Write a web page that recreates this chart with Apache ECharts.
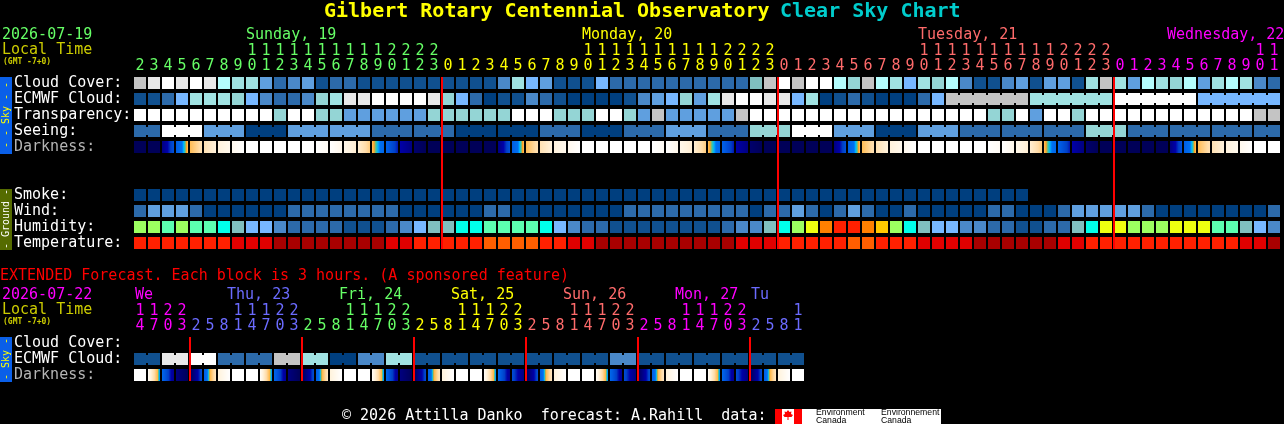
<!DOCTYPE html>
<html><head><meta charset="utf-8">
<style>html,body{margin:0;padding:0;background:#000;overflow:hidden}#c{width:1284px;height:424px}</style>
<script src="https://cdn.jsdelivr.net/npm/echarts@6/dist/echarts.min.js"></script>
</head><body><div id="c"></div>
<script>
// ---------- Data ----------
const hoursMain = [2,3,4,5,6,7,8,9,10,11,12,13,14,15,16,17,18,19,20,21,22,23,
 0,1,2,3,4,5,6,7,8,9,10,11,12,13,14,15,16,17,18,19,20,21,22,23,
 0,1,2,3,4,5,6,7,8,9,10,11,12,13,14,15,16,17,18,19,20,21,22,23,
 0,1,2,3,4,5,6,7,8,9,10,11];
const hoursExt = [14,17,20,23, 2,5,8,11,14,17,20,23, 2,5,8,11,14,17,20,23, 2,5,8,11,14,17,20,23,
 2,5,8,11,14,17,20,23, 2,5,8,11,14,17,20,23, 2,5,8,11];
const rowsMain = ['Cloud Cover:','ECMWF Cloud:','Transparency:','Seeing:','Darkness:','','','Smoke:','Wind:','Humidity:','Temperature:'];
const rowsExt = ['Cloud Cover:','ECMWF Cloud:','Darkness:'];
// level -> colour
const palette = ['#003f7f','#10508f','#2c6aaa','#4a88c8','#5f9fdf','#77b7ff','#b4fdfd','#a0e2e2','#94d5d5','#80bfbf','#c4c4c4','#e8e8e8','#ffffff',
 '#00ffea','#5cffb0','#9cff60','#eeff10','#ffc800','#ff8000','#ff5e00','#ff2000','#e00000','#a80000'];
const cloudCover = [10,11,12,11,12,11,6,7,7,4,2,3,4,1,2,2,1,1,1,1,1,1,1,1,1,1,3,7,5,4,1,1,1,5,2,2,2,2,2,2,2,2,2,2,9,10,12,10,12,12,6,8,10,6,7,5,7,8,6,3,1,1,3,4,1,4,4,1,7,10,7,4,6,7,8,6,4,7,6,7,3,2];
const ecmwfCloud = [1,1,2,5,7,7,7,8,5,3,2,2,3,8,7,11,11,12,12,12,12,11,8,5,2,0,1,1,3,2,1,0,0,0,0,1,3,4,5,8,4,7,11,12,12,11,11,5,7,0,1,2,1,0,0,0,2,5,10,10,10,10,10,10,7,7,7,7,7,7,12,12,12,12,12,12,5,5,5,5,5,5];
const ecmwfLinked = [[58,63],[64,69],[70,75],[76,81]];
const transparency = [12,12,12,12,12,12,12,12,12,12,8,12,12,8,8,4,4,4,4,4,4,8,8,8,8,8,8,12,12,12,8,8,8,12,12,8,4,10,4,4,4,4,4,10,12,12,12,12,12,12,12,12,12,12,12,12,12,12,12,12,12,8,8,12,4,12,12,8,12,12,12,12,12,12,12,12,12,12,12,12,10,10];
const seeingBlockValues = [2,12,4,0,4,4,2,2,0,0,2,0,2,4,2,8,12,4,0,4,2,2,2,8,2,2,2,2];
const seeingBlockSizes  = [2,3,3,3,3,3,3,3,3,3,3,3,3,3,3,3,3,3,3,3,3,3,3,3,3,3,3,2];
const darkFrom = [8,8,7,4.4,2.8,1.8,1,.5,0,0,0,0,0,0,0,.6,1.2,2.8,4.2,6,7.5,8,
 8,8,8,8,7,4.4,2.8,1.8,1,.5,0,0,0,0,0,0,0,.6,1.2,2.8,4.2,6,7.5,8,
 8,8,8,8,7,4.4,2.8,1.8,1,.5,0,0,0,0,0,0,0,.6,1.2,2.8,4.2,6,7.5,8,
 8,8,8,8,7,4.4,2.8,1.8,1,.5,0,0];
const darkTo = [8,8,4.8,2.8,1.8,1,.5,0,0,0,0,0,0,.3,.6,1.2,2.4,4,5.8,7,8,8,
 8,8,8,8,4.8,2.8,1.8,1,.5,0,0,0,0,0,0,.3,.6,1.2,2.4,4,5.8,7,8,8,
 8,8,8,8,4.8,2.8,1.8,1,.5,0,0,0,0,0,0,.3,.6,1.2,2.4,4,5.8,7,8,8,
 8,8,8,8,4.8,2.8,1.8,1,.5,0,0,0];
const smoke = [0,0,0,0,0,0,0,0,0,0,0,0,0,0,0,0,0,0,0,0,0,0,0,0,0,0,0,0,0,0,0,0,0,0,0,0,0,0,0,0,0,0,0,0,0,0,0,0,0,0,0,0,0,0,0,0,0,0,0,0,0,0,0,0];
const wind = [2,4,4,4,2,0,0,0,0,0,0,2,2,2,2,2,2,2,2,0,0,0,0,0,0,2,2,0,0,0,0,0,0,0,0,2,2,2,2,2,2,2,2,2,0,2,2,4,2,0,2,4,2,0,0,2,0,0,0,0,0,2,2,0,0,0,2,4,4,4,4,4,2,0,0,0,0,0,0,0,0,2];
const humidity = [15,15,14,15,14,14,13,9,5,5,3,2,2,2,2,1,1,1,2,3,5,9,9,13,13,14,14,14,14,13,5,3,2,2,1,1,1,1,1,1,1,1,2,3,3,9,13,15,16,18,20,20,18,17,15,13,9,5,5,3,3,2,2,1,1,2,2,9,13,16,16,15,15,15,16,16,16,14,14,9,5,3];
const temperature = [20,20,20,20,20,20,20,21,21,21,22,22,22,22,22,22,22,22,21,21,20,20,20,20,20,19,19,19,19,20,20,21,21,22,22,22,22,22,22,22,22,22,22,21,21,21,20,20,20,20,20,19,19,20,20,20,21,21,21,21,22,22,22,22,22,22,21,21,20,20,20,20,20,20,20,20,20,20,20,21,21,22];
const extEcmwfBlocks = [1,11,12,2,2,10,7,0,3,7,1,1,1,1,1,1,1,3,1,1,1,1,1,1];
const extDarkFrom = [0,.2,4,7,8,4.4,1,0, 0,.2,4,7,8,4.4,1,0, 0,.2,4,7,8,4.4,1,0, 0,.2,4,5,8,4.4,1,0, 0,.2,4,5,8,4.4,1,0, 0,.2,4,5,8,4.4,1,0];
const extDarkTo   = [0,3.6,6.6,8,5,1.5,0,0, 0,3.6,6.6,8,5,1.5,0,0, 0,3.6,6.6,8,5,1.5,0,0, 0,3.6,6.6,7,5,1.5,0,0, 0,3.6,6.6,7,5,1.5,0,0, 0,3.6,6.6,7,5,1.5,0,0];
const midnightColsMain = [22,46,70];
const midnightColsExt = [4,12,20,28,36,44];
// day colours along the hour axes
const dayColMain = ['#66ff66','#ffff00','#ff6b6b','#ff00ff'];
const dayColExt = ['#ff00ff','#6b6bff','#66ff66','#ffff00','#ff6b6b','#ff00ff','#6b6bff'];
const darkScale = [[0,'#ffffff'],[1,'#fff2dc'],[2,'#ffdca8'],[2.9,'#ffb84a'],[3,'#ffa020'],[3.2,'#40c8a0'],[3.4,'#00b0ff'],[3.6,'#0070f0'],[4.6,'#0058e0'],[5.4,'#0040c8'],[6,'#0000a8'],[7,'#000080'],[8,'#000058']];

const FONT = '"DejaVu Sans Mono",monospace';

// ---------- helpers ----------
function hex(c){return [parseInt(c.slice(1,3),16),parseInt(c.slice(3,5),16),parseInt(c.slice(5,7),16)];}
function darkColor(v){
  for(let i=1;i<darkScale.length;i++){
    if(v<=darkScale[i][0]){
      const a=darkScale[i-1],b=darkScale[i],t=(v-a[0])/(b[0]-a[0]||1),A=hex(a[1]),B=hex(b[1]);
      return 'rgb('+A.map((x,k)=>Math.round(x+(B[k]-x)*t)).join(',')+')';
    }
  }
  return darkScale[darkScale.length-1][1];
}
function cellSeries(gi,row,vals,links){
  return {type:'custom',xAxisIndex:gi,yAxisIndex:gi,clip:false,silent:true,animation:false,
    data:vals.map((v,i)=>[i,row,v,links&&links[i]?1:0]),
    renderItem(p,api){
      const c=api.coord([api.value(0),api.value(1)]),x=c[0]-6,y=c[1]-6,f=palette[api.value(2)];
      const ch=[{type:'rect',shape:{x,y,width:12,height:12},style:{fill:f}}];
      if(api.value(3)) ch.push({type:'rect',shape:{x:x+12,y:y+2,width:2,height:8},style:{fill:f}});
      return {type:'group',children:ch};
    }};
}
function darkSeries(gi,row,from,to){
  return {type:'custom',xAxisIndex:gi,yAxisIndex:gi,clip:false,silent:true,animation:false,
    data:from.map((v,i)=>[i,row,v,to[i]]),
    renderItem(p,api){
      const c=api.coord([api.value(0),api.value(1)]),a=api.value(2),b=api.value(3),st=[];
      for(let k=0;k<12;k++){const col=darkColor(a+(b-a)*(k+.5)/12);st.push({offset:k/12,color:col},{offset:(k+1)/12,color:col});}
      return {type:'rect',shape:{x:c[0]-6,y:c[1]-6,width:12,height:12},
        style:{fill:new echarts.graphic.LinearGradient(0,0,1,0,st)}};
    }};
}
function midnightSeries(gi,cols,rowTop,rowBottom){
  return {type:'custom',xAxisIndex:gi,yAxisIndex:gi,clip:false,silent:true,animation:false,z:5,
    data:cols.map(c=>[c,rowTop,rowBottom]),
    renderItem(p,api){
      const t=api.coord([api.value(0),api.value(1)]),b=api.coord([api.value(0),api.value(2)]);
      return {type:'rect',shape:{x:t[0]-7,y:t[1]-6,width:2,height:b[1]-t[1]+12},style:{fill:'#ff0000'}};
    }};
}
function dayColors(hours,cols){let d=0;return hours.map((h,i)=>{if(i&&h<hours[i-1])d++;return cols[d];});}
function linksFromRanges(n,ranges){const l=new Array(n).fill(0);ranges.forEach(r=>{for(let i=r[0];i<r[1];i++)l[i]=1;});return l;}
function expand(vals,sizes){const o=[];vals.forEach((v,i)=>{for(let k=0;k<sizes[i];k++)o.push(v);});return o;}
function blockLinks(sizes){const o=[];sizes.forEach(s=>{for(let k=0;k<s;k++)o.push(k<s-1?1:0);});return o;}
function hourAxis(gi,hours,cols){
  const colors=dayColors(hours,cols);
  return {type:'category',gridIndex:gi,position:'top',data:hours.map(h=>(h>=10?Math.floor(h/10):' ')+'\n'+h%10),
    axisLine:{show:false},axisTick:{show:false},splitLine:{show:false},
    axisLabel:{interval:0,margin:1,hideOverlap:false,fontFamily:FONT,fontSize:15,lineHeight:15,color:(v,i)=>colors[i]}};
}
function rowAxis(gi,rows){
  return {type:'category',gridIndex:gi,inverse:true,data:rows,
    axisLine:{show:false},axisTick:{show:false},splitLine:{show:false},
    axisLabel:{interval:0,margin:119,align:'left',fontFamily:FONT,fontSize:15,padding:[0,0,3,0],
      color:v=>v==='Darkness:'?'#b4b4b4':'#ffffff'}};
}
function txt(s,x,y,fill,size,weight){
  return {type:'text',x,y,silent:true,style:{text:s,fill,font:(weight||'normal')+' '+size+'px '+FONT,textAlign:'left',textVerticalAlign:'middle'}};
}
function rot(s,cx,cy,fill){
  return {type:'text',x:cx,y:cy,rotation:Math.PI/2,silent:true,style:{text:s,fill,font:'10px '+FONT,textAlign:'center',textVerticalAlign:'middle'}};
}
function box(x,y,w,h,fill){return {type:'rect',silent:true,shape:{x,y,width:w,height:h},style:{fill}};}

const seeing = expand(seeingBlockValues,seeingBlockSizes);
const seeingLinks = blockLinks(seeingBlockSizes);
const extEcmwf = expand(extEcmwfBlocks,extEcmwfBlocks.map(()=>2));
const extLinks = blockLinks(extEcmwfBlocks.map(()=>2));

const texts = [
  txt('Gilbert Rotary Centennial Observatory',324,12,'#ffff00',20,'bold'),
  txt('Clear Sky Chart',780,12,'#00cccc',20,'bold'),
  txt('2026-07-19',2,35,'#66ff66',15),
  txt('Local Time',2,50,'#cccc00',15),
  txt('(GMT -7+0)',3,62,'#cccc00',8,'bold'),
  txt('Sunday, 19',246,35,'#66ff66',15),
  txt('Monday, 20',582,35,'#ffff00',15),
  txt('Tuesday, 21',918,35,'#ff6b6b',15),
  txt('Wednesday, 22',1167,35,'#ff00ff',15),
  txt('EXTENDED Forecast. Each block is 3 hours. (A sponsored feature)',0,276,'#ff0000',15),
  txt('2026-07-22',2,295,'#ff00ff',15),
  txt('Local Time',2,310,'#cccc00',15),
  txt('(GMT -7+0)',3,322,'#cccc00',8,'bold'),
  txt('We',135,295,'#ff00ff',15),
  txt('Thu, 23',227,295,'#6b6bff',15),
  txt('Fri, 24',339,295,'#66ff66',15),
  txt('Sat, 25',451,295,'#ffff00',15),
  txt('Sun, 26',563,295,'#ff6b6b',15),
  txt('Mon, 27',675,295,'#ff00ff',15),
  txt('Tu',751,295,'#6b6bff',15),
  txt('\u00a9 2026 Attilla Danko  forecast: A.Rahill  data:',342,416,'#ffffff',15),
];
const deco = [
  box(0,77,12,77,'#0a5fe8'), rot('- - Sky - -',6,115,'#ffff00'),
  box(0,189,12,61,'#556b00'), rot('- Ground -',6,219,'#ffffff'),
  box(0,337,12,45,'#0a5fe8'), rot('- Sky -',6,359,'#ffff00'),
  box(775,409,166,15,'#ffffff'), box(775,409,7,15,'#ff0000'), box(794,409,8,15,'#ff0000'),
  {type:'polygon',silent:true,shape:{points:[[788,410],[789.5,412],[791.5,411.5],[791,414],[793,415],[791.5,417],[788.5,417],[788.5,420],[787.5,420],[787.5,417],[784.5,417],[783,415],[785,414],[784.5,411.5],[786.5,412]]},style:{fill:'#ff0000'}},
  {type:'text',x:816,y:416.5,silent:true,style:{text:'Environment\nCanada',fill:'#000',font:'8.7px "Liberation Sans",sans-serif',lineHeight:8,textAlign:'left',textVerticalAlign:'middle'}},
  {type:'text',x:881,y:416.5,silent:true,style:{text:'Environnement\nCanada',fill:'#000',font:'8.7px "Liberation Sans",sans-serif',lineHeight:8,textAlign:'left',textVerticalAlign:'middle'}},
];

const chart = echarts.init(document.getElementById('c'),null,{renderer:'canvas'});
chart.setOption({
  backgroundColor:'#000',animation:false,
  grid:[
    {left:133,top:75,width:82*14,height:11*16},
    {left:133,top:335,width:48*14,height:3*16}
  ],
  xAxis:[hourAxis(0,hoursMain,dayColMain),hourAxis(1,hoursExt,dayColExt)],
  yAxis:[rowAxis(0,rowsMain),rowAxis(1,rowsExt)],
  series:[
    cellSeries(0,0,cloudCover),
    cellSeries(0,1,ecmwfCloud,linksFromRanges(82,ecmwfLinked)),
    cellSeries(0,2,transparency),
    cellSeries(0,3,seeing,seeingLinks),
    darkSeries(0,4,darkFrom,darkTo),
    cellSeries(0,7,smoke),
    cellSeries(0,8,wind),
    cellSeries(0,9,humidity),
    cellSeries(0,10,temperature),
    midnightSeries(0,midnightColsMain,0,10),
    cellSeries(1,1,extEcmwf,extLinks),
    darkSeries(1,2,extDarkFrom,extDarkTo),
    midnightSeries(1,midnightColsExt,0,2)
  ],
  graphic:{elements:deco.concat(texts)}
});
</script></body></html>
